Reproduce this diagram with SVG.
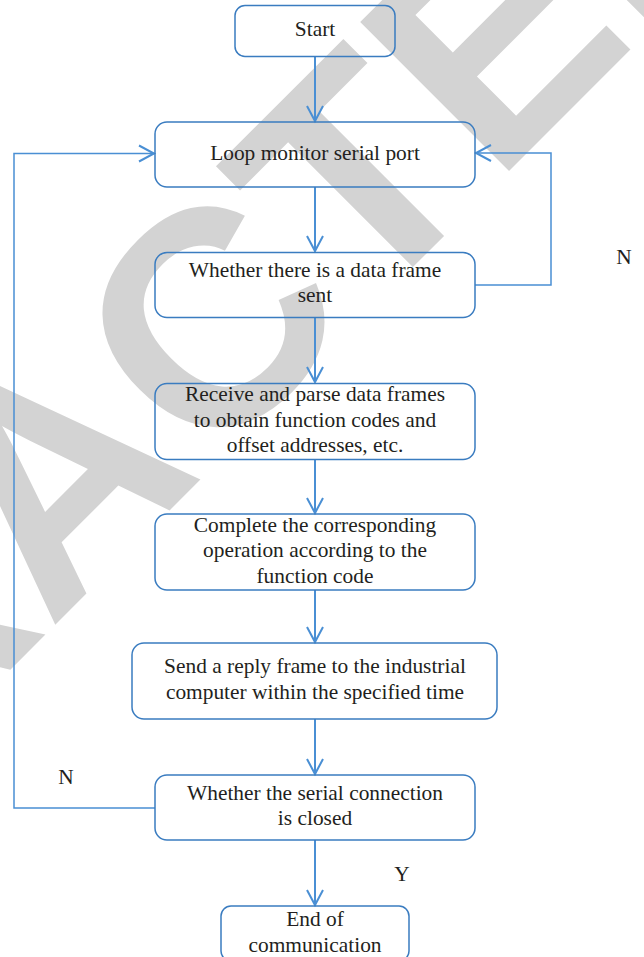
<svg xmlns="http://www.w3.org/2000/svg" width="644" height="957" viewBox="0 0 644 957">
<style>
.wm{font-family:"Liberation Sans",Arial,sans-serif;font-weight:bold;font-size:306px;fill:#d3d3d3}
.box{fill:none;stroke:#3a7cc0;stroke-width:1.5}
.t{font-family:"Liberation Serif","Times New Roman",serif;font-size:21.4px;fill:#231f20;text-anchor:middle}
.c{fill:none;stroke:#4a8fd4;stroke-width:2}
.cl{fill:none;stroke:#4a8fd4;stroke-width:1.5}
</style>
<defs>
<marker id="ah" markerUnits="userSpaceOnUse" markerWidth="20" markerHeight="20" viewBox="-16 -10 20 20" refX="0" refY="0" orient="auto">
<path d="M-15,-8 L0,0 L-15,8" fill="none" stroke="#4a8fd4" stroke-width="2"/>
</marker>
</defs>
<rect width="644" height="957" fill="#ffffff"/>
<text class="wm" x="0" y="0" text-anchor="middle" transform="translate(128,552) rotate(-45)">RETRACTED</text>
<g id="connectors">
<path class="c" d="M315,57 V121" marker-end="url(#ah)"/>
<path class="c" d="M315,187 V251" marker-end="url(#ah)"/>
<path class="c" d="M315,318 V382" marker-end="url(#ah)"/>
<path class="c" d="M315,459 V513" marker-end="url(#ah)"/>
<path class="c" d="M315,590 V642" marker-end="url(#ah)"/>
<path class="c" d="M315,719 V774" marker-end="url(#ah)"/>
<path class="c" d="M315,840 V905" marker-end="url(#ah)"/>
<path class="cl" d="M155,808 H14 V153.5 H154" marker-end="url(#ah)"/>
<path class="cl" d="M475,285 H551 V153 H476" marker-end="url(#ah)"/>
</g>
<g id="start"><rect class="box" x="235" y="5.5" width="160" height="51" rx="10"/><text class="t" x="315" y="36">Start</text></g>
<g id="loop"><rect class="box" x="155" y="122" width="320" height="65" rx="12"/><text class="t" x="315" y="160">Loop monitor serial port</text></g>
<g id="check-frame"><rect class="box" x="155" y="252.5" width="320" height="65" rx="12"/><text class="t" x="315" y="277">Whether there is a data frame</text><text class="t" x="315" y="302">sent</text></g>
<g id="receive"><rect class="box" x="155" y="383.5" width="320" height="76" rx="12"/><text class="t" x="315" y="401">Receive and parse data frames</text><text class="t" x="315" y="426.5">to obtain function codes and</text><text class="t" x="315" y="451.5">offset addresses, etc.</text></g>
<g id="complete"><rect class="box" x="155" y="514" width="320" height="76" rx="12"/><text class="t" x="315" y="532">Complete the corresponding</text><text class="t" x="315" y="557">operation according to the</text><text class="t" x="315" y="582.5">function code</text></g>
<g id="reply"><rect class="box" x="132" y="643" width="365" height="76" rx="12"/><text class="t" x="315" y="673">Send a reply frame to the industrial</text><text class="t" x="315" y="699">computer within the specified time</text></g>
<g id="check-closed"><rect class="box" x="155" y="775" width="320" height="65" rx="12"/><text class="t" x="315" y="800">Whether the serial connection</text><text class="t" x="315" y="824.5">is closed</text></g>
<g id="end"><rect class="box" x="221" y="906" width="188" height="55" rx="10"/><text class="t" x="315" y="926">End of</text><text class="t" x="315" y="951.5">communication</text></g>
<g id="labels"><text class="t" x="624" y="264">N</text><text class="t" x="66" y="784">N</text><text class="t" x="402" y="881">Y</text></g>
</svg>
